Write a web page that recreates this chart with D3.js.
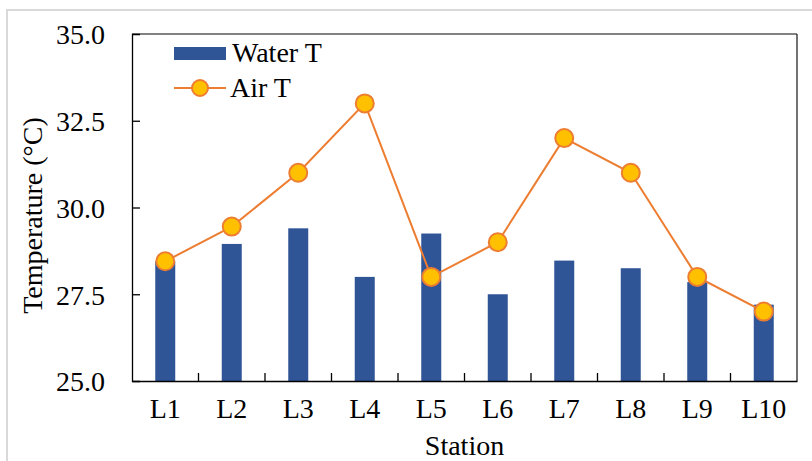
<!DOCTYPE html>
<html><head><meta charset="utf-8">
<script src="https://cdn.jsdelivr.net/npm/d3@7"></script>
<style>body{margin:0;background:#fff} #c text{font-family:'Liberation Serif','Times New Roman',serif !important;}</style>
</head><body>
<svg id="c" width="812" height="461"></svg>
<script>
const stations = ["L1","L2","L3","L4","L5","L6","L7","L8","L9","L10"];
const waterT = [28.45,28.95,29.4,28.0,29.25,27.5,28.47,28.25,27.85,27.2];
const airT = [28.45,29.45,31.0,33.0,28.0,29.0,32.0,31.0,28.0,27.0];
const yTicks = [25.0,27.5,30.0,32.5,35.0];

const FONT = "Liberation Serif";
const FS = 28;
const svg = d3.select("#c");
const L=132, R=797, T=34, B=381;
const x = d3.scaleBand().domain(stations).range([L,R]).paddingInner(0).paddingOuter(0);
const y = d3.scaleLinear().domain([25,35]).range([B,T]);

function txt(sel){ return sel.attr("font-family",FONT).style("font-family","'Liberation Serif', serif").attr("font-size",FS).attr("fill","#000"); }

// outer frame
svg.append("rect").attr("x",7).attr("y",10).attr("width",820).attr("height",470)
  .attr("fill","none").attr("stroke","#d9d9d9").attr("stroke-width",2);

// plot frame top/right
svg.append("line").attr("x1",L).attr("x2",R).attr("y1",T).attr("y2",T).attr("stroke","#595959").attr("stroke-width",1.3);
svg.append("line").attr("x1",R).attr("x2",R).attr("y1",T).attr("y2",B).attr("stroke","#262626").attr("stroke-width",1.3);

// bars
const bw = 20;
svg.selectAll("rect.bar").data(stations).enter().append("rect").attr("class","bar")
  .attr("x",(d,i)=>x(d)+x.bandwidth()/2-bw/2).attr("width",bw)
  .attr("y",(d,i)=>y(waterT[i])).attr("height",(d,i)=>B-y(waterT[i]))
  .attr("fill","#2F5597");

// axes
const yAxis = d3.axisLeft(y).tickValues(yTicks).tickSize(-8).tickPadding(27).tickFormat(d3.format(".1f"));
const gy = svg.append("g").attr("transform",`translate(${L},0)`).call(yAxis);
gy.attr("font-family",FONT).attr("font-size",FS);
gy.select(".domain").attr("stroke","#000").attr("stroke-width",1.3);
gy.selectAll(".tick line").attr("stroke","#000").attr("stroke-width",1.3)
  .filter(d=>d===25||d===35).remove();
txt(gy.selectAll(".tick text")).attr("dy","0.35em");

const gx = svg.append("g").attr("transform",`translate(0,${B})`)
  .call(d3.axisBottom(x).tickSize(0).tickPadding(17));
gx.attr("font-family",FONT).attr("font-size",FS);
gx.select(".domain").attr("stroke","#000").attr("stroke-width",1.3);
txt(gx.selectAll(".tick text"));
// boundary ticks between categories
svg.selectAll("line.xt").data(stations.slice(1)).enter().append("line").attr("class","xt")
  .attr("x1",d=>x(d)).attr("x2",d=>x(d)).attr("y1",B).attr("y2",B-8).attr("stroke","#000").attr("stroke-width",1.3);

// line
const line = d3.line().x((d,i)=>x(stations[i])+x.bandwidth()/2).y(d=>y(d));
svg.append("path").datum(airT).attr("d",line).attr("fill","none").attr("stroke","#ED7D31").attr("stroke-width",2);
svg.selectAll("circle.pt").data(airT).enter().append("circle").attr("class","pt")
  .attr("cx",(d,i)=>x(stations[i])+x.bandwidth()/2).attr("cy",d=>y(d)).attr("r",9)
  .attr("fill","#FFC000").attr("stroke","#ED7D31").attr("stroke-width",2);

// axis titles
txt(svg.append("text")).attr("x",(L+R)/2).attr("y",455).attr("text-anchor","middle").text("Station");
txt(svg.append("text")).attr("transform",`translate(42,${(T+B)/2+8}) rotate(-90)`).attr("text-anchor","middle").text("Temperature (°C)");

// legend
svg.append("rect").attr("x",174).attr("y",47).attr("width",52).attr("height",13).attr("fill","#2F5597");
txt(svg.append("text")).attr("x",232).attr("y",62).text("Water T");
svg.append("line").attr("x1",174).attr("x2",226).attr("y1",88).attr("y2",88).attr("stroke","#ED7D31").attr("stroke-width",2);
svg.append("circle").attr("cx",200).attr("cy",88).attr("r",8).attr("fill","#FFC000").attr("stroke","#ED7D31").attr("stroke-width",2);
txt(svg.append("text")).attr("x",230).attr("y",97).text("Air T");
</script>
</body></html>
